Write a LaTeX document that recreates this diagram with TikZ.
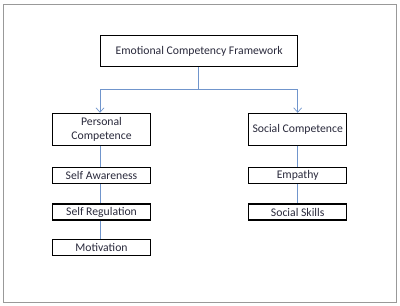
\documentclass[tikz,border=0pt]{standalone}
\usepackage{fontspec}
\setmainfont{Carlito}
\usetikzlibrary{arrows.meta}
\definecolor{conn}{HTML}{7095CC}
\definecolor{txt}{HTML}{2A2A3C}
\begin{document}
\begin{tikzpicture}[x=1pt,y=-1pt,
  box/.style={draw=black,line width=1.1pt,fill=white,inner sep=0pt,text=txt,font=\fontsize{11.7}{14.5}\selectfont,align=center},
  bigbox/.style={box,minimum width=98.4pt,minimum height=31.7pt},
  smallbox/.style={box,minimum width=98.4pt,minimum height=16pt},
  conn/.style={draw=conn,line width=0.8pt},
  arr/.style={conn,-{Straight Barb[length=4.5pt,width=8pt,line width=0.7pt]}}]
\useasboundingbox (0,0) rectangle (400,306);
\draw[draw=gray!80,line width=0.8pt] (3.5,4) rectangle (396.5,302);
\node[box,minimum width=197pt,minimum height=31pt] (top) at (199.2,51.2) {Emotional Competency Framework};
\node[bigbox] (pers) at (101.5,129.2) {Personal\\Competence};
\node[bigbox] (soc) at (297.7,129.2) {Social Competence};
\node[smallbox] (sa) at (101.5,175.3) {Self Awareness};
\node[smallbox] (sr) at (101.5,212) {Self Regulation};
\node[smallbox] (mot) at (101.5,247.5) {Motivation};
\node[smallbox] (emp) at (297.7,175.3) {Empathy};
\node[smallbox] (ss) at (297.7,212) {Social Skills};
\coordinate (j) at (198,89.3);
\draw[conn] (top.south -| j) -- (j);
\draw[arr] (j) -| ([xshift=-1.5pt]pers.north);
\draw[arr] (j) -| (soc.north);
\draw[conn] ([xshift=-1.5pt]pers.south) -- ([xshift=-1.5pt]sa.north);
\draw[conn] ([xshift=-1.5pt]sa.south) -- ([xshift=-1.5pt]sr.north);
\draw[conn] ([xshift=-1.5pt]sr.south) -- ([xshift=-1.5pt]mot.north);
\draw[conn] (soc.south) -- (emp.north);
\draw[conn] (emp.south) -- (ss.north);
\end{tikzpicture}
\end{document}
